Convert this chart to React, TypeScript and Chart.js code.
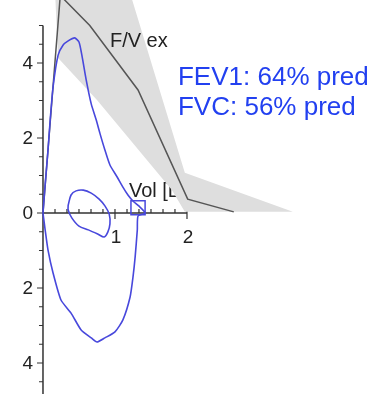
import React, { useEffect, useRef } from "react";
import { Chart, registerables } from "chart.js";

Chart.register(...registerables);

// ---- Data (volume in L, flow in L/s) ----
const loopVolume = [0, 0.03, 0.07, 0.1, 0.14, 0.21, 0.28, 0.35, 0.44, 0.5, 0.54, 0.6, 0.67, 0.74, 0.79, 0.86, 0.93, 1.03, 1.11, 1.18, 1.25, 1.33, 1.42, 1.32, 1.31, 1.28, 1.25, 1.21, 1.11, 1.0, 0.86, 0.75, 0.67, 0.53, 0.39, 0.25, 0.14, 0.07, 0.03, 0];
const loopFlow = [0, 0.75, 1.68, 2.48, 3.36, 4.21, 4.48, 4.59, 4.67, 4.56, 4.21, 3.55, 2.91, 2.48, 2.13, 1.68, 1.28, 0.96, 0.69, 0.48, 0.32, 0.19, 0, -0.08, -0.45, -1.17, -1.71, -2.24, -2.85, -3.17, -3.33, -3.44, -3.33, -3.12, -2.67, -2.32, -1.6, -0.99, -0.45, 0];

const tidalVolume = [0.35, 0.39, 0.46, 0.56, 0.67, 0.78, 0.86, 0.92, 0.93, 0.9, 0.85, 0.76, 0.63, 0.5, 0.4, 0.35, 0.35];
const tidalFlow = [0.21, 0.48, 0.59, 0.61, 0.53, 0.37, 0.19, -0.03, -0.29, -0.51, -0.64, -0.56, -0.45, -0.35, -0.13, 0.08, 0.21];

const predVolume = [0, 0.24, 0.65, 1.32, 2.01, 2.65];
const predFlow = [0, 5.8, 5.0, 3.28, 0.37, 0.03];

const rangeVolume = [0.17, 1.22, 1.97, 3.47, 1.97, 1.79, 0.75, 0.21];
const rangeFlow = [5.8, 5.8, 1.07, 0.03, 0.03, 0.61, 3.01, 4.13];

const markerVolume = [1.32];
const markerFlow = [0.14];

const yTickValues = [5, 4.5, 4, 3.5, 3, 2.5, 2, 1.5, 1, 0.5, -0.5, -1, -1.5, -2, -2.5, -3, -3.5, -4, -4.5];
const yLabelValues = [4, 2, 0, -2, -4];
const yLabelTexts = ["4", "2", "0", "2", "4"];
const xTickValues = [0.167, 0.333, 0.5, 0.667, 0.833, 1, 1.167, 1.333, 1.5, 1.667, 1.833, 2];
const xLabelValues = [1, 2];
const xLabelTexts = ["1", "2"];

const curveLabel = "F/V ex";
const axisLabel = "Vol [L]";
const fev1Text = "FEV1: 64% pred";
const fvcText = "FVC: 56% pred";

const FONT = '"Liberation Sans", Arial, sans-serif';
const BLUE = "#4848dc";

function toPoints(xs: number[], ys: number[]) {
  return xs.map((v, i) => ({ x: v, y: ys[i] }));
}

const overlay = {
  id: "overlay",
  beforeDatasetsDraw(chart: any) {
    const { ctx, scales, chartArea } = chart;
    const x = scales.x;
    const y = scales.y;
    ctx.save();
    // volume axis label (lies under the predicted band)
    ctx.font = `20px ${FONT}`;
    ctx.fillStyle = "#222";
    ctx.textAlign = "left";
    ctx.textBaseline = "alphabetic";
    ctx.fillText(axisLabel, x.getPixelForValue(1.194), y.getPixelForValue(0.427));

    const x0 = x.getPixelForValue(0);
    const y0 = y.getPixelForValue(0);
    ctx.strokeStyle = "#333";
    ctx.lineWidth = 1.5;
    ctx.beginPath();
    ctx.moveTo(x0, y.getPixelForValue(5));
    ctx.lineTo(x0, chartArea.bottom);
    ctx.moveTo(x0, y0);
    ctx.lineTo(x.getPixelForValue(2), y0);
    ctx.stroke();

    ctx.lineWidth = 1.2;
    ctx.beginPath();
    yTickValues.forEach((v) => {
      const py = y.getPixelForValue(v);
      ctx.moveTo(x0 - 4, py);
      ctx.lineTo(x0, py);
    });
    yLabelValues.forEach((v) => {
      const py = y.getPixelForValue(v);
      ctx.moveTo(x0 - 6, py);
      ctx.lineTo(x0, py);
    });
    xTickValues.forEach((v) => {
      const px = x.getPixelForValue(v);
      ctx.moveTo(px, y0 - 4);
      ctx.lineTo(px, y0);
      if (xLabelValues.includes(v)) {
        ctx.moveTo(px, y0);
        ctx.lineTo(px, y0 + 6);
      }
    });
    ctx.stroke();

    ctx.fillStyle = "#222";
    ctx.font = `19px ${FONT}`;
    ctx.textAlign = "right";
    ctx.textBaseline = "middle";
    yLabelValues.forEach((v, i) => {
      ctx.fillText(yLabelTexts[i], x0 - 10, y.getPixelForValue(v) + 1);
    });
    ctx.textAlign = "center";
    ctx.textBaseline = "alphabetic";
    xLabelValues.forEach((v, i) => {
      ctx.fillText(xLabelTexts[i], x.getPixelForValue(v) + 1, y0 + 30);
    });
    ctx.restore();
  },
  afterDatasetsDraw(chart: any) {
    const { ctx, scales } = chart;
    const x = scales.x;
    const y = scales.y;
    ctx.save();
    ctx.textAlign = "left";
    ctx.textBaseline = "alphabetic";
    ctx.font = `20px ${FONT}`;
    ctx.fillStyle = "#222";
    ctx.fillText(curveLabel, x.getPixelForValue(0.93), y.getPixelForValue(4.43));
    ctx.font = `26px ${FONT}`;
    ctx.fillStyle = "#2240f0";
    ctx.fillText(fev1Text, x.getPixelForValue(1.875), y.getPixelForValue(3.41));
    ctx.fillText(fvcText, x.getPixelForValue(1.875), y.getPixelForValue(2.61));
    ctx.restore();
  },
};

export default function App() {
  const canvasRef = useRef<HTMLCanvasElement | null>(null);

  useEffect(() => {
    const canvas = canvasRef.current;
    if (!canvas) return;
    const chart = new Chart(canvas, {
      type: "scatter",
      data: {
        datasets: [
          {
            data: toPoints(markerVolume, markerFlow),
            showLine: false,
            pointStyle: "rect",
            pointRadius: 10,
            pointBorderWidth: 1.5,
            pointBorderColor: BLUE,
            pointBackgroundColor: "rgba(0,0,0,0)",
          },
          {
            data: toPoints(loopVolume, loopFlow),
            showLine: true,
            borderColor: BLUE,
            borderWidth: 1.6,
            pointRadius: 0,
            tension: 0.2,
            fill: false,
          },
          {
            data: toPoints(tidalVolume, tidalFlow),
            showLine: true,
            borderColor: BLUE,
            borderWidth: 1.6,
            pointRadius: 0,
            tension: 0.3,
            fill: false,
          },
          {
            data: toPoints(predVolume, predFlow),
            showLine: true,
            borderColor: "#555555",
            borderWidth: 1.5,
            pointRadius: 0,
            tension: 0,
            fill: false,
          },
          {
            data: toPoints(rangeVolume, rangeFlow),
            showLine: true,
            borderWidth: 0,
            borderColor: "rgba(0,0,0,0)",
            backgroundColor: "#dedede",
            pointRadius: 0,
            tension: 0,
            fill: "shape",
          },
        ],
      },
      options: {
        animation: false,
        responsive: false,
        maintainAspectRatio: false,
        events: [],
        layout: { padding: 0, autoPadding: false },
        plugins: { legend: { display: false }, tooltip: { enabled: false } },
        scales: {
          x: { type: "linear", min: -0.597, max: 4.639, display: false },
          y: { type: "linear", min: -4.827, max: 5.68, display: false },
        },
      },
      plugins: [overlay],
    } as any);
    return () => chart.destroy();
  }, []);

  return (
    <div style={{ position: "fixed", left: 0, top: 0, width: 377, height: 394, background: "#fff" }}>
      <canvas ref={canvasRef} width={377} height={394} style={{ display: "block" }} />
    </div>
  );
}
